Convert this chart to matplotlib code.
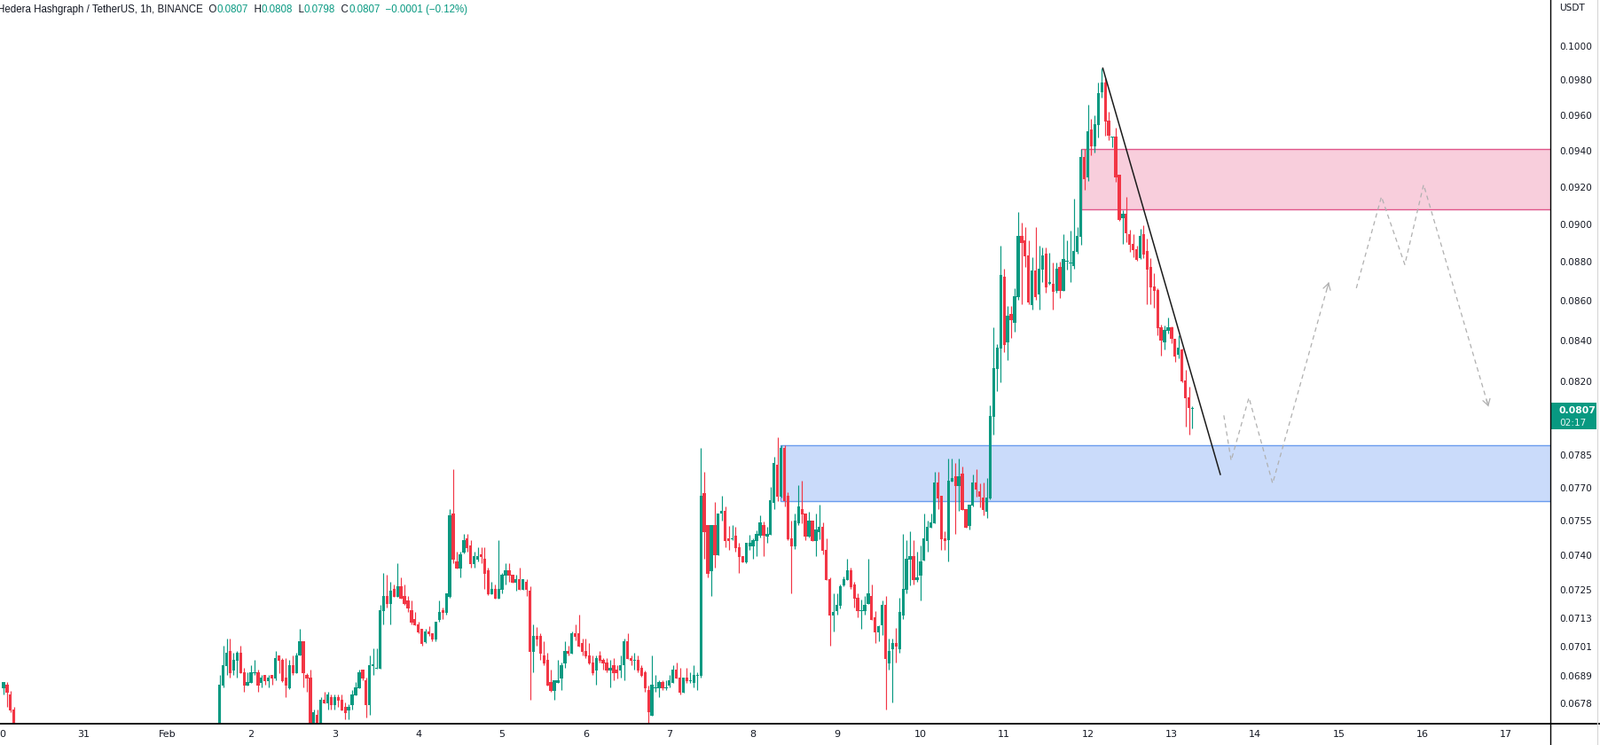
import numpy as np
import matplotlib
matplotlib.use("Agg")
import matplotlib.pyplot as plt
from matplotlib.patches import Rectangle
from matplotlib.lines import Line2D
from matplotlib.ticker import NullLocator, NullFormatter

plt.rcParams['lines.scale_dashes'] = False

# ---------------- data (hourly candles, time = hours after Jan 30 00:00) ----------------
first_hour = 63
opens = [
    0.0668, 0.06850, 0.06930, 0.06991, 0.06911, 0.06951, 0.06984, 0.06904, 0.06851, 0.06862,
    0.06899, 0.06904, 0.06862, 0.06893, 0.06868, 0.06893, 0.06879, 0.06973, 0.06955, 0.06882,
    0.06839, 0.06933, 0.06901, 0.06972, 0.07032, 0.06893, 0.06882, 0.0667, 0.06732, 0.0668,
    0.06793, 0.06777, 0.06804, 0.06771, 0.06804, 0.06793, 0.06764, 0.06751, 0.06771, 0.06811,
    0.06839, 0.06913, 0.06871, 0.06771, 0.06930, 0.06918, 0.06918, 0.07159, 0.07223, 0.07188,
    0.07253, 0.07218, 0.07265, 0.07223, 0.07204, 0.07163, 0.07125, 0.07103, 0.07084, 0.07028,
    0.07073, 0.07065, 0.07040, 0.07120, 0.07163, 0.07151, 0.07218, 0.07584, 0.07372, 0.07341,
    0.07410, 0.07473, 0.07442, 0.07360, 0.07379, 0.07403, 0.07383, 0.07333, 0.07230, 0.07253,
    0.07211, 0.07249, 0.07310, 0.07333, 0.07314, 0.07280, 0.07295, 0.07249, 0.07284, 0.07246,
    0.06988, 0.07054, 0.07054, 0.06973, 0.06955, 0.06864, 0.06829, 0.06862, 0.06879, 0.06940,
    0.06991, 0.06980, 0.07065, 0.07065, 0.07025, 0.06991, 0.06973, 0.06944, 0.06911, 0.06973,
    0.06955, 0.06944, 0.06911, 0.06933, 0.06915, 0.06911, 0.06933, 0.07032, 0.06962, 0.06951,
    0.06955, 0.06922, 0.06904, 0.06832, 0.06730, 0.06839, 0.06839, 0.06864, 0.06839, 0.06850,
    0.06862, 0.06915, 0.06882, 0.06821, 0.06882, 0.06868, 0.06861, 0.06889, 0.06889, 0.07676,
    0.07532, 0.07329, 0.07532, 0.07399, 0.07584, 0.07596, 0.07473, 0.07469, 0.07484, 0.07434,
    0.07395, 0.07368, 0.07438, 0.07438, 0.07461, 0.07484, 0.07532, 0.07481, 0.07488, 0.07632,
    0.07805, 0.07660, 0.07884, 0.07664, 0.07473, 0.07438, 0.07540, 0.07604, 0.07584, 0.07481,
    0.07552, 0.07461, 0.07500, 0.07524, 0.07422, 0.07295, 0.07140, 0.07159, 0.07181, 0.07268,
    0.07291, 0.07333, 0.07272, 0.07215, 0.07159, 0.07159, 0.07189, 0.07223, 0.07133, 0.07069,
    0.07099, 0.07185, 0.06940, 0.06999, 0.07025, 0.06999, 0.07140, 0.07249, 0.07379, 0.07395,
    0.07291, 0.07310, 0.07376, 0.07461, 0.07520, 0.07540, 0.07724, 0.07664, 0.07473, 0.07465,
    0.07728, 0.07753, 0.07708, 0.07765, 0.07604, 0.07528, 0.07620, 0.07724, 0.07684, 0.07656,
    0.07592, 0.07652, 0.08030, 0.08261, 0.08361, 0.08724, 0.08391, 0.08534, 0.08490, 0.08620,
    0.08938, 0.08914, 0.08834, 0.08579, 0.08756, 0.08633, 0.08761, 0.08844, 0.08688, 0.08688,
    0.08652, 0.08774, 0.08652, 0.08802, 0.08792, 0.08779, 0.08853, 0.08933, 0.09364, 0.09252,
    0.09518, 0.09423, 0.09543, 0.09731, 0.09786, 0.09568, 0.09473, 0.09478, 0.09266, 0.09032,
    0.09056, 0.08947, 0.08895, 0.08867, 0.08820, 0.08947, 0.08858, 0.08774, 0.08674, 0.08656,
    0.08467, 0.08391, 0.08449, 0.08467, 0.08409, 0.08330, 0.08357, 0.08204, 0.08123, 0.08068,
]
highs = [
    0.06893, 0.07012, 0.07043, 0.07043, 0.06984, 0.06991, 0.07012, 0.06921, 0.06904, 0.06933,
    0.06955, 0.06913, 0.06893, 0.06893, 0.06893, 0.06893, 0.06991, 0.06973, 0.06962, 0.06962,
    0.06955, 0.06973, 0.06984, 0.07084, 0.07032, 0.06901, 0.06913, 0.06754, 0.06754, 0.06804,
    0.06825, 0.06825, 0.06814, 0.06814, 0.06814, 0.06814, 0.06782, 0.06775, 0.06832, 0.06864,
    0.06913, 0.06913, 0.06882, 0.06973, 0.07002, 0.07002, 0.07185, 0.07322, 0.07314, 0.07284,
    0.07271, 0.07364, 0.07301, 0.07271, 0.07223, 0.07204, 0.07155, 0.07114, 0.07084, 0.07084,
    0.07095, 0.07065, 0.07114, 0.07204, 0.07174, 0.07234, 0.07604, 0.07785, 0.07414, 0.07414,
    0.07492, 0.07492, 0.07465, 0.07414, 0.07434, 0.07434, 0.07434, 0.07345, 0.07284, 0.07272,
    0.07465, 0.07322, 0.07364, 0.07364, 0.07314, 0.07314, 0.07345, 0.07295, 0.07295, 0.07265,
    0.07103, 0.07091, 0.07065, 0.07032, 0.06984, 0.06915, 0.06871, 0.06955, 0.06944, 0.07032,
    0.07014, 0.07073, 0.07103, 0.07144, 0.07043, 0.07043, 0.07025, 0.06973, 0.06973, 0.06991,
    0.06962, 0.06962, 0.06955, 0.06962, 0.06933, 0.06973, 0.07043, 0.07065, 0.06973, 0.06984,
    0.06973, 0.06933, 0.06911, 0.06849, 0.06973, 0.06893, 0.06871, 0.06871, 0.06871, 0.06893,
    0.06933, 0.06944, 0.06922, 0.06882, 0.06922, 0.06904, 0.06933, 0.06904, 0.07884, 0.07773,
    0.07532, 0.07532, 0.07636, 0.07584, 0.07664, 0.07616, 0.07528, 0.07532, 0.07524, 0.07453,
    0.07395, 0.07453, 0.07488, 0.07473, 0.07508, 0.07576, 0.07548, 0.07524, 0.07704, 0.07842,
    0.07933, 0.07896, 0.07896, 0.07680, 0.07552, 0.07584, 0.07712, 0.07732, 0.07584, 0.07592,
    0.07552, 0.07584, 0.07624, 0.07544, 0.07473, 0.07303, 0.07234, 0.07234, 0.07272, 0.07306,
    0.07383, 0.07345, 0.07284, 0.07234, 0.07208, 0.07223, 0.07383, 0.07272, 0.07159, 0.07099,
    0.07204, 0.07223, 0.07043, 0.07043, 0.07088, 0.07215, 0.07492, 0.07465, 0.07504, 0.07465,
    0.07414, 0.07442, 0.07584, 0.07552, 0.07584, 0.07773, 0.07773, 0.07664, 0.07504, 0.07834,
    0.07834, 0.07814, 0.07834, 0.07797, 0.07604, 0.07624, 0.07761, 0.07785, 0.07720, 0.07724,
    0.07745, 0.08086, 0.08467, 0.08383, 0.08886, 0.08765, 0.08575, 0.08575, 0.08665, 0.09065,
    0.09008, 0.08984, 0.08914, 0.08825, 0.08984, 0.08886, 0.08877, 0.08877, 0.08848, 0.08797,
    0.08797, 0.08802, 0.08947, 0.08914, 0.08966, 0.09137, 0.08984, 0.09408, 0.09408, 0.09659,
    0.09578, 0.09598, 0.09786, 0.09869, 0.09812, 0.09618, 0.09478, 0.09528, 0.09266, 0.09075,
    0.09146, 0.08970, 0.08947, 0.08886, 0.08975, 0.08994, 0.08923, 0.08820, 0.08742, 0.08665,
    0.08481, 0.08476, 0.08516, 0.08472, 0.08409, 0.08427, 0.08361, 0.08257, 0.08174, 0.08080,
]
lows = [
    0.0665, 0.06843, 0.06894, 0.06882, 0.06894, 0.06882, 0.06901, 0.06825, 0.06849, 0.06862,
    0.06894, 0.06825, 0.06844, 0.06854, 0.06844, 0.06854, 0.06870, 0.06901, 0.06865, 0.06804,
    0.06836, 0.06894, 0.06901, 0.06972, 0.06843, 0.06825, 0.0664, 0.0665, 0.0666, 0.0667,
    0.06777, 0.06754, 0.06754, 0.06754, 0.06765, 0.06751, 0.06714, 0.06714, 0.06754, 0.06811,
    0.06839, 0.06870, 0.06721, 0.06732, 0.06893, 0.06918, 0.06918, 0.07103, 0.07174, 0.07103,
    0.07218, 0.07218, 0.07211, 0.07185, 0.07155, 0.07103, 0.07099, 0.07065, 0.07014, 0.07025,
    0.07054, 0.07032, 0.07032, 0.07114, 0.07125, 0.07144, 0.07215, 0.07364, 0.07341, 0.07303,
    0.07406, 0.07414, 0.07345, 0.07345, 0.07372, 0.07364, 0.07253, 0.07227, 0.07230, 0.07211,
    0.07211, 0.07234, 0.07272, 0.07284, 0.07280, 0.07246, 0.07249, 0.07249, 0.07223, 0.06793,
    0.06904, 0.07014, 0.06955, 0.06933, 0.06850, 0.06825, 0.06793, 0.06862, 0.06832, 0.06922,
    0.06973, 0.06980, 0.07036, 0.07010, 0.06973, 0.06962, 0.06937, 0.06893, 0.06854, 0.06944,
    0.06915, 0.06904, 0.06843, 0.06871, 0.06879, 0.06882, 0.06871, 0.06959, 0.06933, 0.06915,
    0.06904, 0.06886, 0.06825, 0.06695, 0.06730, 0.06825, 0.06804, 0.06832, 0.06832, 0.06843,
    0.06862, 0.06879, 0.06814, 0.06821, 0.06861, 0.06861, 0.06843, 0.06832, 0.06882, 0.07383,
    0.07303, 0.07223, 0.07345, 0.07399, 0.07552, 0.07434, 0.07422, 0.07465, 0.07414, 0.07322,
    0.07368, 0.07364, 0.07422, 0.07383, 0.07395, 0.07477, 0.07395, 0.07453, 0.07488, 0.07604,
    0.07640, 0.07656, 0.07616, 0.07465, 0.07234, 0.07426, 0.07532, 0.07540, 0.07465, 0.07477,
    0.07461, 0.07395, 0.07469, 0.07403, 0.07291, 0.07014, 0.07073, 0.07144, 0.07170, 0.07265,
    0.07291, 0.07253, 0.07174, 0.07133, 0.07084, 0.07144, 0.07189, 0.07121, 0.07025, 0.07032,
    0.07058, 0.06754, 0.06915, 0.06782, 0.06944, 0.06984, 0.07125, 0.07234, 0.07268, 0.07272,
    0.07284, 0.07204, 0.07376, 0.07414, 0.07520, 0.07540, 0.07604, 0.07422, 0.07422, 0.07372,
    0.07728, 0.07492, 0.07596, 0.07600, 0.07520, 0.07512, 0.07616, 0.07660, 0.07612, 0.07576,
    0.07564, 0.07648, 0.07946, 0.08153, 0.08196, 0.08343, 0.08304, 0.08413, 0.08445, 0.08606,
    0.08584, 0.08774, 0.08584, 0.08557, 0.08606, 0.08557, 0.08697, 0.08642, 0.08683, 0.08557,
    0.08642, 0.08615, 0.08652, 0.08761, 0.08697, 0.08765, 0.08844, 0.08891, 0.09184, 0.09232,
    0.09374, 0.09389, 0.09473, 0.09700, 0.09483, 0.09458, 0.09418, 0.09227, 0.09017, 0.08895,
    0.08905, 0.08853, 0.08825, 0.08806, 0.08816, 0.08820, 0.08584, 0.08584, 0.08566, 0.08427,
    0.08326, 0.08357, 0.08436, 0.08387, 0.08296, 0.08313, 0.08196, 0.07983, 0.07946, 0.07975,
]
closes = [
    0.06852, 0.06933, 0.06984, 0.06901, 0.06955, 0.06984, 0.06901, 0.06851, 0.06864, 0.06904,
    0.06904, 0.06851, 0.06882, 0.06868, 0.06882, 0.06879, 0.06962, 0.06951, 0.06868, 0.06851,
    0.06933, 0.06901, 0.06973, 0.07032, 0.06901, 0.06879, 0.0667, 0.06743, 0.0668, 0.06793,
    0.06777, 0.06814, 0.06771, 0.06804, 0.06789, 0.06751, 0.06739, 0.06764, 0.06814, 0.06843,
    0.06904, 0.06879, 0.06771, 0.06933, 0.06933, 0.06921, 0.07161, 0.07223, 0.07188, 0.07246,
    0.07218, 0.07265, 0.07211, 0.07188, 0.07170, 0.07110, 0.07099, 0.07069, 0.07021, 0.07073,
    0.07062, 0.07040, 0.07114, 0.07155, 0.07151, 0.07234, 0.07576, 0.07381, 0.07341, 0.07403,
    0.07465, 0.07430, 0.07360, 0.07395, 0.07395, 0.07391, 0.07318, 0.07230, 0.07253, 0.07211,
    0.07253, 0.07314, 0.07333, 0.07310, 0.07280, 0.07295, 0.07249, 0.07295, 0.07249, 0.06988,
    0.07054, 0.07040, 0.06980, 0.06940, 0.06850, 0.06829, 0.06871, 0.06871, 0.06933, 0.06991,
    0.06980, 0.07065, 0.07051, 0.07010, 0.06988, 0.06970, 0.06940, 0.06900, 0.06962, 0.06951,
    0.06940, 0.06911, 0.06922, 0.06900, 0.06900, 0.06933, 0.07032, 0.06959, 0.06951, 0.06955,
    0.06911, 0.06889, 0.06839, 0.06742, 0.06854, 0.06843, 0.06864, 0.06839, 0.06843, 0.06871,
    0.06915, 0.06879, 0.06821, 0.06882, 0.06868, 0.06871, 0.06893, 0.06893, 0.07664, 0.07500,
    0.07318, 0.07532, 0.07399, 0.07584, 0.07596, 0.07461, 0.07461, 0.07473, 0.07430, 0.07391,
    0.07368, 0.07453, 0.07453, 0.07465, 0.07492, 0.07544, 0.07484, 0.07492, 0.07644, 0.07814,
    0.07660, 0.07884, 0.07640, 0.07469, 0.07438, 0.07552, 0.07616, 0.07580, 0.07481, 0.07552,
    0.07461, 0.07512, 0.07524, 0.07418, 0.07291, 0.07140, 0.07155, 0.07185, 0.07265, 0.07295,
    0.07333, 0.07261, 0.07211, 0.07159, 0.07163, 0.07185, 0.07234, 0.07121, 0.07069, 0.07095,
    0.07185, 0.06959, 0.06991, 0.07025, 0.07010, 0.07155, 0.07253, 0.07383, 0.07395, 0.07291,
    0.07303, 0.07372, 0.07473, 0.07524, 0.07544, 0.07724, 0.07652, 0.07469, 0.07461, 0.07732,
    0.07745, 0.07708, 0.07753, 0.07600, 0.07520, 0.07624, 0.07724, 0.07692, 0.07660, 0.07600,
    0.07656, 0.08034, 0.08265, 0.08365, 0.08733, 0.08378, 0.08525, 0.08503, 0.08624, 0.08938,
    0.08900, 0.08830, 0.08593, 0.08756, 0.08620, 0.08765, 0.08834, 0.08670, 0.08697, 0.08647,
    0.08765, 0.08652, 0.08816, 0.08806, 0.08797, 0.08858, 0.08938, 0.09364, 0.09242, 0.09508,
    0.09423, 0.09548, 0.09725, 0.09786, 0.09563, 0.09483, 0.09478, 0.09252, 0.09022, 0.09056,
    0.08952, 0.08891, 0.08862, 0.08811, 0.08938, 0.08839, 0.08761, 0.08670, 0.08652, 0.08463,
    0.08400, 0.08454, 0.08467, 0.08409, 0.08322, 0.08365, 0.08200, 0.08119, 0.08072, 0.08072,
]

# a few candles at the very left edge (Jan 30)
early_hour = 1
early_open = [0.06839, 0.06854, 0.06815, 0.06755]
early_high = [0.06864, 0.06864, 0.06830, 0.06765]
early_low = [0.06815, 0.06765, 0.06744, 0.06630]
early_close = [0.06864, 0.06822, 0.06751, 0.06650]

day_labels = ['30', '31', 'Feb', '2', '3', '4', '5', '6', '7', '8', '9', '10',
              '11', '12', '13', '14', '15', '16', '17']
price_ticks = [0.1000, 0.0980, 0.0960, 0.0940, 0.0920, 0.0900, 0.0880, 0.0860, 0.0840,
               0.0820, 0.0785, 0.0770, 0.0755, 0.0740, 0.0725, 0.0713, 0.0701, 0.0689, 0.0678]

# drawings (time in hours after Jan 30 00:00, price)
supply_zone = (310.2, 0.09077, 0.09407)
demand_zone = (223.9, 0.07639, 0.07895)
trend_t = [316.3, 350.0]
trend_p = [0.09869, 0.07761]
path1_t = [351.0, 353.1, 358.2, 365.0, 381.1]
path1_p = [0.08037, 0.07825, 0.08122, 0.07720, 0.08695]
path2_t = [389.0, 396.2, 402.9, 408.3, 426.9]
path2_p = [0.08665, 0.09147, 0.08787, 0.09212, 0.08079]

last_price = "0.0807"
countdown = "02:17"
header_parts = [("Hedera Hashgraph / TetherUS, 1h, BINANCE", "dark"),
                ("  O", "dark"), ("0.0807", "green"),
                ("  H", "dark"), ("0.0808", "green"),
                ("  L", "dark"), ("0.0798", "green"),
                ("  C", "dark"), ("0.0807", "green"),
                ("  \u22120.0001 (\u22120.12%)", "green")]

# ---------------- style ----------------
GREEN = '#089981'
RED = '#F23645'
DARK = '#131722'
W, H = 1804, 840
PLOT_R = 1748
PLOT_B = 816
PX_PER_HOUR = 94.35 / 24.0

fig = plt.figure(figsize=(W / 100, H / 100), dpi=100)
fig.patch.set_facecolor('white')
ax = fig.add_axes([0, (H - PLOT_B) / H, PLOT_R / W, PLOT_B / H])
ax.set_facecolor('white')
ax.set_yscale('log')
ax.set_ylim(0.066970, 0.102755)
ax.set_xlim(0, PLOT_R / PX_PER_HOUR)
for s in ax.spines.values():
    s.set_visible(False)

# zones
x_end = PLOT_R / PX_PER_HOUR + 10
t0, lo, hi = demand_zone
ax.add_patch(Rectangle((t0, lo), x_end - t0, hi - lo, facecolor='#CADBFA',
                       edgecolor='#6A9CEE', linewidth=1.0, zorder=1))
t0, lo, hi = supply_zone
ax.add_patch(Rectangle((t0, lo), x_end - t0, hi - lo, facecolor='#F8CEDC',
                       edgecolor='#E0568A', linewidth=1.0, zorder=1))


def draw_candles(t_start, o, h, l, c):
    o, h, l, c = map(np.asarray, (o, h, l, c))
    t = t_start + np.arange(len(o))
    col = np.where(c >= o, GREEN, RED)
    ax.vlines(t, l, h, colors=col, linewidth=0.85, zorder=3)
    bottom = np.minimum(o, c)
    height = np.maximum(np.abs(c - o), bottom * 0.0007)
    ax.bar(t, height, width=0.84, bottom=bottom, color=col, linewidth=0, zorder=4)


draw_candles(first_hour, opens, highs, lows, closes)
draw_candles(early_hour, early_open, early_high, early_low, early_close)

# trend line
ax.plot(trend_t, trend_p, color='#1b1b1b', linewidth=1.1, zorder=5)

# projected paths
for pt, pp in ((path1_t, path1_p), (path2_t, path2_p)):
    ax.plot(pt, pp, color='#b0b0b0', linewidth=0.9, dashes=(3.6, 3.0), zorder=5)
    frac = 0.03
    xs = pt[-1] - frac * (pt[-1] - pt[-2])
    ys = pp[-1] * (pp[-2] / pp[-1]) ** frac
    ax.annotate('', xy=(pt[-1], pp[-1]), xytext=(xs, ys),
                arrowprops=dict(arrowstyle='->,head_length=0.5,head_width=0.3',
                                color='#b0b0b0', lw=0.9, shrinkA=0, shrinkB=0),
                zorder=5)

# axes ticks
ax.yaxis.tick_right()
ax.set_yticks(price_ticks)
ax.set_yticklabels([f'{p:.4f}' for p in price_ticks])
ax.yaxis.set_minor_locator(NullLocator())
ax.yaxis.set_minor_formatter(NullFormatter())
ax.tick_params(axis='y', length=0, pad=7.2, labelsize=7.6, labelcolor=DARK)
ax.set_xticks([24 * i for i in range(len(day_labels))])
ax.set_xticklabels(day_labels)
ax.tick_params(axis='x', length=0, pad=5, labelsize=8, labelcolor=DARK)

# frame lines
fig.add_artist(Line2D([PLOT_R / W, PLOT_R / W], [0, 1], transform=fig.transFigure,
                      color='black', linewidth=1.0))
fig.add_artist(Line2D([0, 1], [(H - PLOT_B) / H] * 2, transform=fig.transFigure,
                      color='black', linewidth=1.3))
fig.add_artist(Line2D([1801 / W] * 2, [0, 1], transform=fig.transFigure,
                      color='#d6d6d6', linewidth=0.8))

# currency label
fig.text(1758 / W, 1 - 9 / H, 'USDT', fontsize=7.6, color=DARK, ha='left', va='center')

# last price label
fig.add_artist(Rectangle((PLOT_R / W, 1 - 484 / H), 52 / W, 30 / H,
                         transform=fig.transFigure, facecolor=GREEN, edgecolor='none'))
fig.text(1758 / W, 1 - 462.5 / H, last_price, fontsize=7.8, color='white',
         fontweight='bold', ha='left', va='center')
fig.text(1758 / W, 1 - 476.5 / H, countdown, fontsize=7.6, color='#e6f5f2',
         ha='left', va='center')

# header
colors = {'dark': DARK, 'green': GREEN}
prev = None
for txt, c in header_parts:
    if prev is None:
        prev = fig.text(-3 / W, 1 - 11 / H, txt, fontsize=8.3, color=colors[c],
                        ha='left', va='center', family=['Liberation Sans', 'DejaVu Sans'])
    else:
        prev = fig.add_artist(matplotlib.text.Annotation(
            txt, xy=(1, 0), xycoords=prev, ha='left', va='bottom',
            fontsize=8.3, color=colors[c], family=['Liberation Sans', 'DejaVu Sans']))

fig.savefig('out.png', dpi=100, facecolor='white')
